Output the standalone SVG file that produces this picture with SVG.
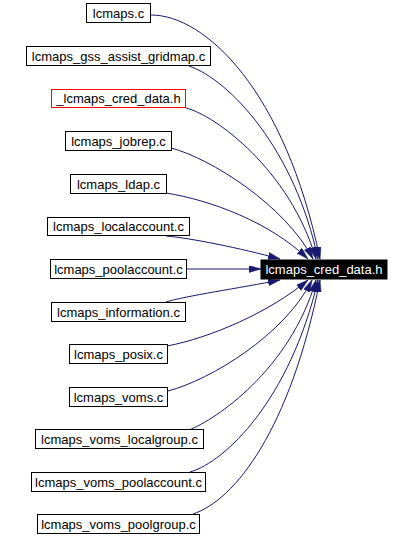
<svg xmlns="http://www.w3.org/2000/svg" width="412" height="537" viewBox="0 0 412 537">
<style>
.n rect{fill:#fff;stroke:#000;stroke-width:1}
.n text{font-family:"Liberation Sans",Arial,sans-serif;font-size:13px;fill:#000;text-anchor:middle}
.red rect{stroke:#ff0000}
.t rect{fill:#000;stroke:#000}
.t text{font-family:"Liberation Sans",Arial,sans-serif;font-size:13px;fill:#fff;text-anchor:middle}
.e path{fill:none;stroke:#191970;stroke-width:1;marker-end:url(#ah)}
</style>
<defs>
<marker id="ah" markerUnits="userSpaceOnUse" markerWidth="13" markerHeight="8" refX="12" refY="3.5" orient="auto">
<path d="M0,0 L12,3.5 L0,7 z" fill="#191970" stroke="#191970" stroke-width="0.5"/>
</marker>
</defs>
<rect width="412" height="537" fill="#fff"/>
<g id="edges" class="e">
<path d="M151,15 C205,15 285,90 320,259"/>
<path d="M189,66 C230,80 295,150 318,259"/>
<path d="M186,108 C215,115 290,170 316,259"/>
<path d="M171,148 C210,158 285,205 313,259"/>
<path d="M166,193 C210,200 270,222 308,259"/>
<path d="M166,236 C190,238 240,248 280,259"/>
<path d="M187,269 L261,269"/>
<path d="M166,302 C185,296 240,288 280,280"/>
<path d="M167,346 C210,338 270,312 308,280"/>
<path d="M168,391 C210,380 285,335 312,280"/>
<path d="M189,430 C215,420 290,370 316,280"/>
<path d="M190,472 C225,462 290,400 318,280"/>
<path d="M193,514 C235,500 290,430 320,280"/>
</g>
<g id="target" class="t"><rect x="261" y="260" width="126" height="19"/><text x="324" y="274">lcmaps_cred_data.h</text></g>
<g id="n1" class="n"><rect x="86.5" y="3.5" width="64" height="19"/><text x="118.5" y="17.5">lcmaps.c</text></g>
<g id="n2" class="n"><rect x="26.5" y="46.5" width="184" height="19"/><text x="118.5" y="60.5">lcmaps_gss_assist_gridmap.c</text></g>
<g id="n3" class="n red"><rect x="51.5" y="89.5" width="134" height="18"/><text x="118.5" y="103">_lcmaps_cred_data.h</text></g>
<g id="n4" class="n"><rect x="65.5" y="131.5" width="106" height="19"/><text x="118.5" y="145.5">lcmaps_jobrep.c</text></g>
<g id="n5" class="n"><rect x="70.5" y="174.5" width="96" height="19"/><text x="118.5" y="188.5">lcmaps_ldap.c</text></g>
<g id="n6" class="n"><rect x="47.5" y="217.5" width="142" height="18"/><text x="118.5" y="231">lcmaps_localaccount.c</text></g>
<g id="n7" class="n"><rect x="50.5" y="259.5" width="136" height="19"/><text x="118.5" y="273.5">lcmaps_poolaccount.c</text></g>
<g id="n8" class="n"><rect x="51.5" y="302.5" width="134" height="19"/><text x="118.5" y="316.5">lcmaps_information.c</text></g>
<g id="n9" class="n"><rect x="69.5" y="344.5" width="98" height="19"/><text x="118.5" y="358.5">lcmaps_posix.c</text></g>
<g id="n10" class="n"><rect x="69.5" y="387.5" width="98" height="19"/><text x="118.5" y="401.5">lcmaps_voms.c</text></g>
<g id="n11" class="n"><rect x="35.5" y="429.5" width="168" height="19"/><text x="119.5" y="443.5">lcmaps_voms_localgroup.c</text></g>
<g id="n12" class="n"><rect x="31.5" y="472.5" width="174" height="19"/><text x="118.5" y="486.5">lcmaps_voms_poolaccount.c</text></g>
<g id="n13" class="n"><rect x="37.5" y="514.5" width="162" height="19"/><text x="118.5" y="528.5">lcmaps_voms_poolgroup.c</text></g>
</svg>
